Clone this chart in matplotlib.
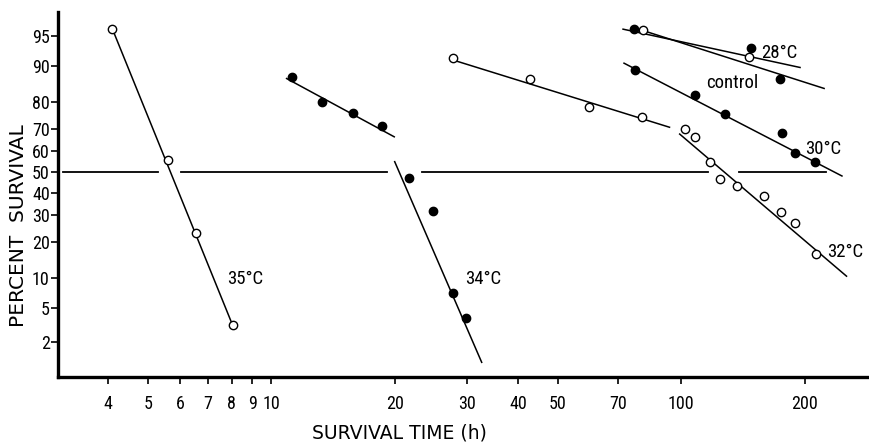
import numpy as np
import matplotlib
matplotlib.use("Agg")
import matplotlib.pyplot as plt
from matplotlib import font_manager
from statistics import NormalDist

# narrow sans face if one is installed, like the typeset original
_names = {f.name for f in font_manager.fontManager.ttflist}
_pick = [n for n in ['Liberation Sans Narrow', 'DejaVu Sans Condensed', 'Roboto Condensed',
                     'Liberation Sans'] if n in _names]
plt.rcParams['font.family'] = _pick[:1] + ['DejaVu Sans']

# ---- data (survival time in h, percent survival) ----
t35 = [4.1, 5.6, 6.55, 8.05]
p35 = [95.8, 55.8, 23.0, 3.2]
fit35_t = [4.1, 8.05]
fit35_p = [95.8, 3.2]

t34a = [11.25, 13.3, 15.8, 18.6]
p34a = [87.4, 80.2, 76.1, 71.1]
fit34a_t = [10.9, 19.95]
fit34a_p = [87.1, 66.5]

t34 = [21.7, 24.8, 27.7, 29.8]
p34 = [47.3, 31.9, 7.2, 3.9]
fit34_t = [20.0, 32.6]
fit34_p = [55.0, 1.07]

t33 = [27.7, 42.7, 59.6, 80.0]
p33 = [91.7, 87.0, 78.4, 74.8]
fit33_t = [27.3, 93.6]
fit33_p = [91.4, 70.6]

t28 = [80.7, 146.0]
p28 = [95.7, 91.8]
fit28_t = [72.1, 194.8]
fit28_p = [95.8, 89.7]

tctl = [76.6, 148.0, 174.0]
pctl = [95.8, 93.3, 87.1]
fitctl_t = [80.0, 223.0]
fitctl_p = [95.7, 84.4]

t30 = [77.0, 108.3, 128.0, 176.0, 189.4, 212.3]
p30 = [89.1, 82.4, 75.8, 68.3, 59.2, 55.0]
fit30_t = [72.5, 246.5]
fit30_p = [90.6, 48.1]

t32 = [101.9, 107.7, 117.2, 124.6, 136.6, 159.5, 175.4, 189.0, 213.1]
p32 = [69.8, 66.3, 55.0, 46.8, 43.3, 38.6, 31.6, 26.8, 16.1]
fit32_t = [99.1, 252.9]
fit32_p = [67.7, 10.4]

# broken 50 % reference line (time ranges of the drawn pieces)
half_segments = [(3.11, 5.29), (6.02, 19.2), (23.3, 116.0), (138.0, 225.7)]

x_ticks = [4, 5, 6, 7, 8, 9, 10, 20, 30, 40, 50, 70, 100, 200]
y_ticks = [2, 5, 10, 20, 30, 40, 50, 60, 70, 80, 90, 95]

# ---- probability (probit) scale ----
_nd = NormalDist()
_ppf = np.vectorize(_nd.inv_cdf, otypes=[float])
_cdf = np.vectorize(_nd.cdf, otypes=[float])


def probit(p):
    p = np.clip(np.asarray(p, dtype=float) / 100.0, 1e-9, 1 - 1e-9)
    return _ppf(p)


def inv_probit(z):
    return 100.0 * _cdf(np.asarray(z, dtype=float))


fig = plt.figure(figsize=(8.7, 4.46), dpi=100)
ax = fig.add_axes([0.0667, 0.1547, 0.9322, 0.8183])
ax.set_xscale('log')
ax.set_yscale('function', functions=(probit, inv_probit))
ax.set_xlim(3.02, 287)
ax.set_ylim(0.66, 97.35)

lw = 1.1
ms = 6
open_kw = dict(marker='o', ms=ms, mfc='white', mec='black', mew=1.0, ls='none', zorder=3)
fill_kw = dict(marker='o', ms=ms, mfc='black', mec='black', mew=1.0, ls='none', zorder=3)

# fitted lines
for ft, fp in [(fit35_t, fit35_p), (fit34a_t, fit34a_p), (fit34_t, fit34_p),
               (fit33_t, fit33_p), (fit28_t, fit28_p), (fitctl_t, fitctl_p),
               (fit30_t, fit30_p), (fit32_t, fit32_p)]:
    ax.plot(ft, fp, color='black', lw=lw, zorder=2)

# points
ax.plot(t35, p35, **open_kw)
ax.plot(t34a, p34a, **fill_kw)
ax.plot(t34, p34, **fill_kw)
ax.plot(t33, p33, **open_kw)
ax.plot(t28, p28, **open_kw)
ax.plot(tctl, pctl, **fill_kw)
ax.plot(t30, p30, **fill_kw)
ax.plot(t32, p32, **open_kw)

# 50 % line
for a, b in half_segments:
    ax.plot([a, b], [50, 50], color='black', lw=1.3, zorder=1)

# curve labels
fs = 13.5
ax.text(7.82, 9.9, '35°C', fontsize=fs, ha='left', va='center')
ax.text(29.7, 9.9, '34°C', fontsize=fs, ha='left', va='center')
ax.text(157, 92.5, '28°C', fontsize=fs, ha='left', va='center')
ax.text(115, 85.8, 'control', fontsize=fs, ha='left', va='center')
ax.text(201, 60.8, '30°C', fontsize=fs, ha='left', va='center')
ax.text(227, 16.8, '32°C', fontsize=fs, ha='left', va='center')

# axes styling
ax.spines['top'].set_visible(False)
ax.spines['right'].set_visible(False)
ax.spines['left'].set_linewidth(2.4)
ax.spines['bottom'].set_linewidth(2.4)

ax.set_xticks(x_ticks)
ax.set_xticklabels([str(v) for v in x_ticks])
ax.xaxis.set_minor_locator(matplotlib.ticker.NullLocator())
ax.set_yticks(y_ticks)
ax.set_yticklabels([str(v) for v in y_ticks])
ax.yaxis.set_minor_locator(matplotlib.ticker.NullLocator())
ax.tick_params(axis='both', direction='out', length=5, width=1.2, labelsize=13)
ax.tick_params(axis='x', pad=8)
ax.tick_params(axis='y', pad=1)

# axis titles are spaced wider in the original, so use the regular face
ax.set_xlabel('SURVIVAL TIME (h)', fontsize=13.5, family='DejaVu Sans', va='center')
ax.xaxis.set_label_coords(0.421, -0.154)
ax.set_ylabel('PERCENT  SURVIVAL', fontsize=14.5, family='DejaVu Sans', va='center')
ax.yaxis.set_label_coords(-0.049, 0.415)

fig.savefig('out.png', dpi=100)
